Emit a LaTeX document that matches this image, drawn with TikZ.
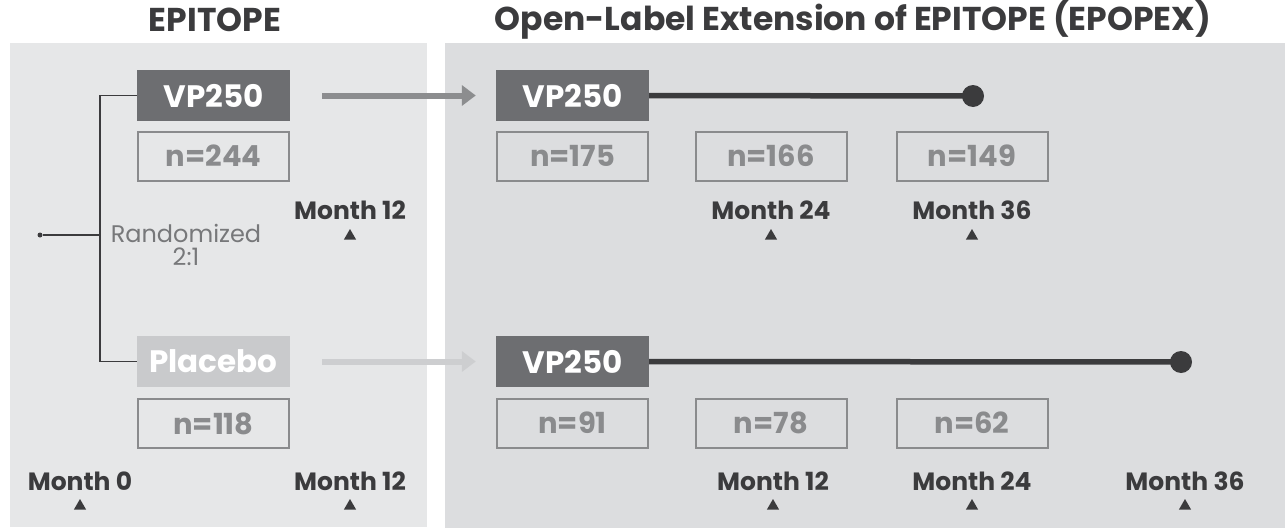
\documentclass[tikz,border=0pt]{standalone}
\usepackage{fontspec}
\setmainfont{Poppins}
\usetikzlibrary{shapes.geometric,arrows.meta}
\definecolor{panelL}{HTML}{E6E7E8}
\definecolor{panelR}{HTML}{DCDDDF}
\definecolor{darkbox}{HTML}{6D6E71}
\definecolor{lightbox}{HTML}{C9CACC}
\definecolor{ngray}{HTML}{8A8B8D}
\definecolor{ink}{HTML}{3B3B3D}
\definecolor{arrowdark}{HTML}{8C8D8F}
\definecolor{arrowlight}{HTML}{CDCED0}
\definecolor{randgray}{HTML}{77787A}
\tikzset{
  armbox/.style={minimum width=153pt,minimum height=51pt,inner sep=0pt,
    font=\fontsize{31}{33}\selectfont\bfseries,text=white},
  nbox/.style={draw=ngray,line width=2pt,minimum width=151pt,minimum height=49pt,inner sep=0pt,
    font=\fontsize{29}{31}\selectfont\bfseries,text=ngray},
  monthlbl/.style={font=\fontsize{25}{27}\selectfont\bfseries,text=ink,inner sep=0pt},
  tick/.style={regular polygon,regular polygon sides=3,fill=ink,minimum size=14pt,inner sep=0pt},
  title/.style={font=\fontsize{33}{35}\selectfont\bfseries,text=ink,inner sep=0pt},
  randlbl/.style={font=\fontsize{24}{26}\selectfont,text=randgray,inner sep=0pt},
  bracket/.style={draw=ink,line width=1.6pt},
  bigarrow/.style={line width=6pt,-{Triangle[length=14pt,width=20pt]}},
  timeline/.style={draw=ink,line width=5.5pt},
  enddot/.style={circle,fill=ink,minimum size=22pt,inner sep=0pt}
}
\begin{document}
\begin{tikzpicture}[x=1pt,y=-1pt]
\useasboundingbox (0,0) rectangle (1285,530);
\fill[white] (0,0) rectangle (1285,530);
% panels
\fill[panelL] (10,43) rectangle (427,527);
\fill[panelR] (445,43) rectangle (1285,528);
% titles
\node[title] (t1) at (215,20) {EPITOPE};
\node[title] (t2) at (853,20) {Open-Label Extension of EPITOPE (EPOPEX)};
% left arms
\node[armbox,fill=darkbox] (vpL) at (213.5,95.5) {VP250};
\node[nbox] (nL1) at (213.5,156) {n=244};
\node[armbox,fill=lightbox] (plc) at (213.5,361.5) {Placebo};
\node[nbox] (nL2) at (213.5,423.5) {n=118};
% randomization bracket
\node[circle,fill=ink,minimum size=5pt,inner sep=0pt] (start) at (40,235) {};
\coordinate (j) at (100,235);
\coordinate (jt) at (100,95.5);
\coordinate (jb) at (100,361.5);
\draw[bracket] (start) -- (j);
\draw[bracket] (vpL.west) -- (jt) -- (jb) -- (plc.west);
\node[randlbl,anchor=base] (rand1) at (186,242) {Randomized};
\node[randlbl,anchor=base] (rand2) at (186,265) {2:1};
% left month labels
\node[monthlbl] (m12a) at (350,210) {Month 12};
\node[tick] (k12a) at (350,236) {};
\node[monthlbl] (m0) at (80,481) {Month 0};
\node[tick] (k0) at (80,506) {};
\node[monthlbl] (m12b) at (350,481) {Month 12};
\node[tick] (k12b) at (350,506) {};
% right top
\node[armbox,fill=darkbox] (vpR1) at (572.5,95.5) {VP250};
\node[nbox] (n175) at (572.5,156) {n=175};
\node[nbox] (n166) at (771,156) {n=166};
\node[nbox] (n149) at (972,156) {n=149};
\node[enddot] (d1) at (973,96) {};
\draw[timeline] (vpR1.east) -- (d1.center);
\node[monthlbl] (m24a) at (771,210) {Month 24};
\node[tick] (k24a) at (771,236) {};
\node[monthlbl] (m36a) at (972,210) {Month 36};
\node[tick] (k36a) at (972,236) {};
% right bottom
\node[armbox,fill=darkbox] (vpR2) at (572.5,361.5) {VP250};
\node[nbox] (n91) at (572.5,423) {n=91};
\node[nbox] (n78) at (771,423) {n=78};
\node[nbox] (n62) at (972,423) {n=62};
\node[enddot] (d2) at (1181,362) {};
\draw[timeline] (vpR2.east) -- (d2.center);
\node[monthlbl] (m12c) at (773,481) {Month 12};
\node[tick] (k12c) at (773,506) {};
\node[monthlbl] (m24b) at (972,481) {Month 24};
\node[tick] (k24b) at (972,506) {};
\node[monthlbl] (m36b) at (1185,481) {Month 36};
\node[tick] (k36b) at (1185,506) {};
% transition arrows
\draw[bigarrow,arrowdark] (vpL.east) ++(32,0) coordinate (a1s) -- ([xshift=-20pt]vpR1.west);
\draw[bigarrow,arrowlight] (plc.east) ++(32,0) coordinate (a2s) -- ([xshift=-20pt]vpR2.west);
\end{tikzpicture}
\end{document}
